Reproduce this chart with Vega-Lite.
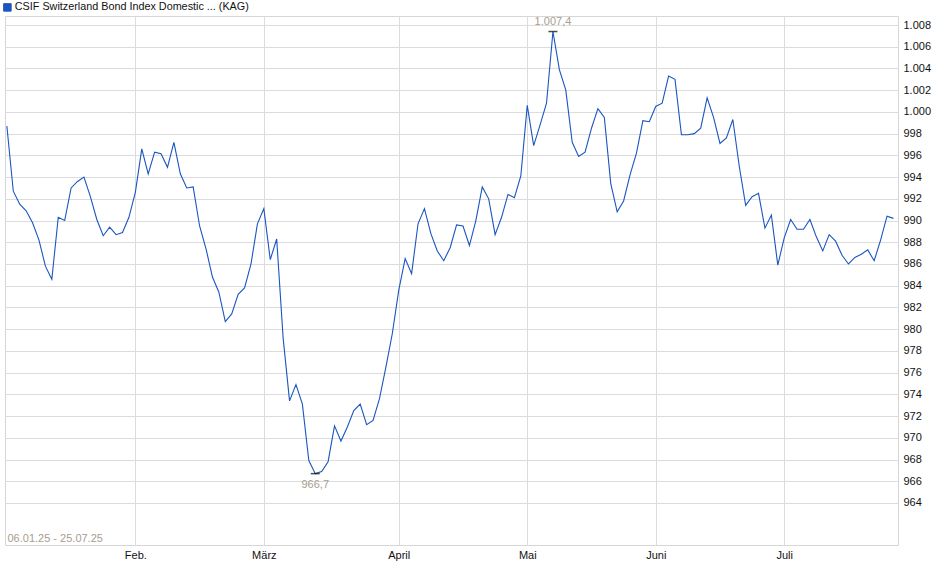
{
  "$schema": "https://vega.github.io/schema/vega-lite/v6.json",
  "width": 893,
  "height": 529,
  "autosize": {"type": "none"},
  "padding": {"left": 5, "top": 16, "right": 42, "bottom": 34},
  "background": "white",
  "config": {
    "font": "Liberation Sans",
    "view": {"stroke": "#d6d6d6", "strokeWidth": 1},
    "axis": {"gridColor": "#dcdcdc", "gridWidth": 1, "domain": false, "ticks": false, "labelFont": "Liberation Sans", "labelFontSize": 11, "labelColor": "#111"}
  },
  "datasets": {
    "kurs": [
      {"d": "2025-01-06", "v": 998.7}, {"d": "2025-01-07", "v": 992.7}, {"d": "2025-01-08", "v": 991.5}, {"d": "2025-01-09", "v": 990.9},
      {"d": "2025-01-10", "v": 989.8}, {"d": "2025-01-13", "v": 988.2}, {"d": "2025-01-14", "v": 985.8}, {"d": "2025-01-15", "v": 984.6},
      {"d": "2025-01-16", "v": 990.3}, {"d": "2025-01-17", "v": 990.0}, {"d": "2025-01-20", "v": 993.0}, {"d": "2025-01-21", "v": 993.6},
      {"d": "2025-01-22", "v": 994.0}, {"d": "2025-01-23", "v": 992.2}, {"d": "2025-01-24", "v": 990.1}, {"d": "2025-01-27", "v": 988.6},
      {"d": "2025-01-28", "v": 989.4}, {"d": "2025-01-29", "v": 988.7}, {"d": "2025-01-30", "v": 988.9}, {"d": "2025-01-31", "v": 990.3},
      {"d": "2025-02-03", "v": 992.6}, {"d": "2025-02-04", "v": 996.6}, {"d": "2025-02-05", "v": 994.3}, {"d": "2025-02-06", "v": 996.3},
      {"d": "2025-02-07", "v": 996.15}, {"d": "2025-02-10", "v": 994.9}, {"d": "2025-02-11", "v": 997.2}, {"d": "2025-02-12", "v": 994.3},
      {"d": "2025-02-13", "v": 993.0}, {"d": "2025-02-14", "v": 993.1}, {"d": "2025-02-17", "v": 989.5}, {"d": "2025-02-18", "v": 987.4},
      {"d": "2025-02-19", "v": 984.8}, {"d": "2025-02-20", "v": 983.4}, {"d": "2025-02-21", "v": 980.7}, {"d": "2025-02-24", "v": 981.4},
      {"d": "2025-02-25", "v": 983.2}, {"d": "2025-02-26", "v": 983.8}, {"d": "2025-02-27", "v": 986.0}, {"d": "2025-02-28", "v": 989.7},
      {"d": "2025-03-03", "v": 991.1}, {"d": "2025-03-04", "v": 986.4}, {"d": "2025-03-05", "v": 988.3}, {"d": "2025-03-06", "v": 979.2},
      {"d": "2025-03-07", "v": 973.4}, {"d": "2025-03-10", "v": 974.9}, {"d": "2025-03-11", "v": 973.1}, {"d": "2025-03-12", "v": 967.9},
      {"d": "2025-03-13", "v": 966.7}, {"d": "2025-03-14", "v": 966.9}, {"d": "2025-03-17", "v": 967.8}, {"d": "2025-03-18", "v": 971.1},
      {"d": "2025-03-19", "v": 969.7}, {"d": "2025-03-20", "v": 971.0}, {"d": "2025-03-21", "v": 972.5}, {"d": "2025-03-24", "v": 973.1},
      {"d": "2025-03-25", "v": 971.2}, {"d": "2025-03-26", "v": 971.6}, {"d": "2025-03-27", "v": 973.6}, {"d": "2025-03-28", "v": 976.5},
      {"d": "2025-03-31", "v": 979.6},
      {"d": "2025-04-01", "v": 983.6}, {"d": "2025-04-02", "v": 986.5}, {"d": "2025-04-03", "v": 985.1}, {"d": "2025-04-04", "v": 989.7},
      {"d": "2025-04-07", "v": 991.1}, {"d": "2025-04-08", "v": 988.8}, {"d": "2025-04-09", "v": 987.2}, {"d": "2025-04-10", "v": 986.3},
      {"d": "2025-04-11", "v": 987.5}, {"d": "2025-04-14", "v": 989.6}, {"d": "2025-04-15", "v": 989.5}, {"d": "2025-04-16", "v": 987.7},
      {"d": "2025-04-17", "v": 990.0}, {"d": "2025-04-22", "v": 993.1}, {"d": "2025-04-23", "v": 992.0}, {"d": "2025-04-24", "v": 988.7},
      {"d": "2025-04-25", "v": 990.3}, {"d": "2025-04-28", "v": 992.4}, {"d": "2025-04-29", "v": 992.1}, {"d": "2025-04-30", "v": 994.1},
      {"d": "2025-05-02", "v": 1000.6}, {"d": "2025-05-05", "v": 996.9}, {"d": "2025-05-06", "v": 998.8}, {"d": "2025-05-07", "v": 1000.8},
      {"d": "2025-05-08", "v": 1007.4}, {"d": "2025-05-09", "v": 1003.9}, {"d": "2025-05-12", "v": 1002.0}, {"d": "2025-05-13", "v": 997.2},
      {"d": "2025-05-14", "v": 995.9}, {"d": "2025-05-15", "v": 996.3}, {"d": "2025-05-16", "v": 998.5}, {"d": "2025-05-19", "v": 1000.3},
      {"d": "2025-05-20", "v": 999.5}, {"d": "2025-05-21", "v": 993.4}, {"d": "2025-05-22", "v": 990.8}, {"d": "2025-05-23", "v": 991.8},
      {"d": "2025-05-26", "v": 994.2}, {"d": "2025-05-27", "v": 996.2}, {"d": "2025-05-28", "v": 999.2}, {"d": "2025-05-30", "v": 999.1},
      {"d": "2025-06-02", "v": 1000.5}, {"d": "2025-06-03", "v": 1000.8}, {"d": "2025-06-04", "v": 1003.3}, {"d": "2025-06-05", "v": 1003.0},
      {"d": "2025-06-06", "v": 997.9}, {"d": "2025-06-10", "v": 997.9}, {"d": "2025-06-11", "v": 998.0}, {"d": "2025-06-12", "v": 998.5},
      {"d": "2025-06-13", "v": 1001.3}, {"d": "2025-06-16", "v": 999.5}, {"d": "2025-06-17", "v": 997.1}, {"d": "2025-06-18", "v": 997.6},
      {"d": "2025-06-19", "v": 999.3}, {"d": "2025-06-20", "v": 995.0}, {"d": "2025-06-23", "v": 991.4}, {"d": "2025-06-24", "v": 992.2},
      {"d": "2025-06-25", "v": 992.5}, {"d": "2025-06-26", "v": 989.3}, {"d": "2025-06-27", "v": 990.5}, {"d": "2025-06-30", "v": 985.9},
      {"d": "2025-07-01", "v": 988.4}, {"d": "2025-07-02", "v": 990.1}, {"d": "2025-07-03", "v": 989.2}, {"d": "2025-07-04", "v": 989.2},
      {"d": "2025-07-07", "v": 990.1}, {"d": "2025-07-08", "v": 988.5}, {"d": "2025-07-09", "v": 987.2}, {"d": "2025-07-10", "v": 988.7},
      {"d": "2025-07-11", "v": 988.1}, {"d": "2025-07-14", "v": 986.8}, {"d": "2025-07-15", "v": 986.0}, {"d": "2025-07-16", "v": 986.6},
      {"d": "2025-07-17", "v": 986.9}, {"d": "2025-07-18", "v": 987.3}, {"d": "2025-07-21", "v": 986.3}, {"d": "2025-07-22", "v": 988.2},
      {"d": "2025-07-23", "v": 990.4}, {"d": "2025-07-24", "v": 990.2}
    ],
    "extreme": [
      {"d": "2025-05-08", "v": 1007.4, "label": "1.007,4", "kind": "hoch"},
      {"d": "2025-03-13", "v": 966.7, "label": "966,7", "kind": "tief"}
    ]
  },
  "data": {"name": "kurs"},
  "encoding": {
    "x": {
      "field": "d",
      "type": "ordinal",
      "sort": "ascending",
      "scale": {"type": "point", "paddingOuter": 0.33, "align": 0.29},
      "axis": {
        "values": ["2025-02-03", "2025-03-03", "2025-04-01", "2025-05-02", "2025-06-02", "2025-07-01"],
        "labelExpr": "['', 'Jan.', 'Feb.', 'März', 'April', 'Mai', 'Juni', 'Juli'][toNumber(substring(datum.value, 5, 7))]",
        "labelAngle": 0,
        "labelPadding": 4,
        "grid": true,
        "title": "06.01.25 - 25.07.25",
        "titleColor": "#a89d90",
        "titleFont": "Liberation Sans",
        "titleFontSize": 11,
        "titleFontWeight": "normal",
        "titleAlign": "left",
        "titleBaseline": "bottom",
        "titleX": 2,
        "titleY": -2
      }
    },
    "y": {
      "field": "v",
      "type": "quantitative",
      "scale": {"domain": [960.13, 1008.83], "nice": false, "zero": false},
      "axis": {
        "orient": "right",
        "values": [964, 966, 968, 970, 972, 974, 976, 978, 980, 982, 984, 986, 988, 990, 992, 994, 996, 998, 1000, 1002, 1004, 1006, 1008],
        "labelExpr": "replace(format(datum.value, ','), ',', '.')",
        "labelPadding": 5,
        "grid": true,
        "title": null
      }
    }
  },
  "layer": [
    {
      "mark": {"type": "line", "strokeWidth": 1.1, "interpolate": "linear"},
      "encoding": {
        "color": {
          "datum": "CSIF Switzerland Bond Index Domestic ... (KAG)",
          "scale": {"range": ["#1a55c0"]},
          "legend": {
            "orient": "none",
            "legendX": -3,
            "legendY": -14,
            "title": null,
            "padding": 0,
            "symbolType": "square",
            "symbolSize": 56,
            "symbolFillColor": "#1a55c0",
            "symbolStrokeColor": "#15358a",
            "symbolStrokeWidth": 1,
            "labelFont": "Liberation Sans",
            "labelFontSize": 10.8,
            "labelColor": "#111",
            "labelLimit": 500,
            "labelOffset": 2
          }
        }
      }
    },
    {
      "data": {"name": "extreme"},
      "mark": {"type": "tick", "color": "#000", "thickness": 1.5, "size": 9, "orient": "horizontal"}
    },
    {
      "data": {"name": "extreme"},
      "transform": [{"filter": "datum.kind == 'hoch'"}],
      "mark": {"type": "text", "dy": -10, "baseline": "middle", "fontSize": 11, "color": "#a89d90"},
      "encoding": {"text": {"field": "label"}}
    },
    {
      "data": {"name": "extreme"},
      "transform": [{"filter": "datum.kind == 'tief'"}],
      "mark": {"type": "text", "dy": 11, "baseline": "middle", "fontSize": 11, "color": "#a89d90"},
      "encoding": {"text": {"field": "label"}}
    }
  ]
}
